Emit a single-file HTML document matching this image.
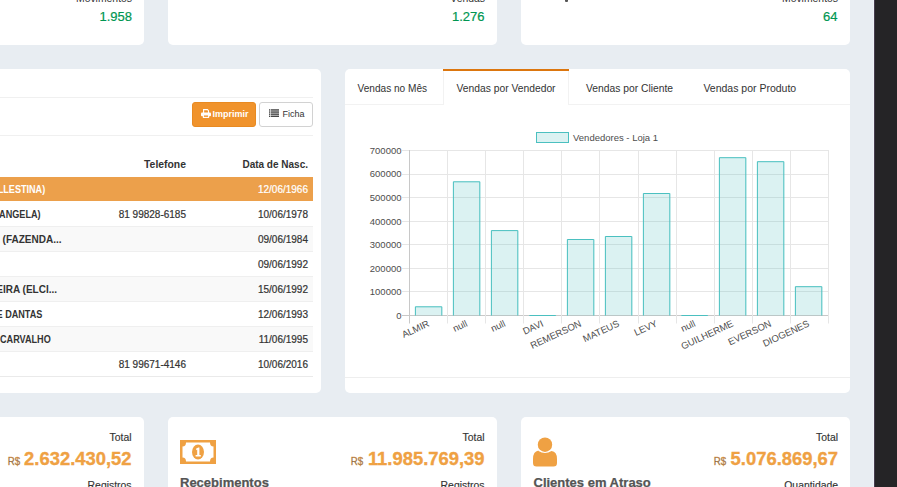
<!DOCTYPE html>
<html><head><meta charset="utf-8">
<style>
*{margin:0;padding:0;box-sizing:border-box}
html,body{width:897px;height:487px;overflow:hidden}
body{background:#e8edf2;font-family:"Liberation Sans",sans-serif;color:#333;position:relative}
.abs{position:absolute}
.card{position:absolute;background:#fff;border-radius:5px}
.r{position:absolute;text-align:right;white-space:nowrap}
.l{position:absolute;white-space:nowrap}
.hl{position:absolute;height:1px;background:#f0f0f0}
</style></head><body>
<div class="card" style="left:-185px;top:-40px;width:329px;height:85px"></div>
<div class="card" style="left:168px;top:-40px;width:329px;height:85px"></div>
<div class="card" style="left:521px;top:-40px;width:329px;height:85px"></div>
<div class="card" style="left:-200px;top:69px;width:521px;height:324px"></div>
<div class="card" style="left:345px;top:69px;width:505px;height:324px"></div>
<div class="card" style="left:-185px;top:417px;width:329px;height:120px"></div>
<div class="card" style="left:168px;top:417px;width:329px;height:120px"></div>
<div class="card" style="left:521px;top:417px;width:329px;height:120px"></div>
<div class="r" style="top:-5.80px;font-size:10.4px;line-height:10.4px;color:#333;right:765.00px;">Movimentos</div>
<div class="r" style="top:10.00px;font-size:13px;line-height:13px;color:#009651;right:765.00px;-webkit-text-stroke:0.2px #009651;">1.958</div>
<div class="r" style="top:-5.80px;font-size:10.4px;line-height:10.4px;color:#333;right:412.00px;">Vendas</div>
<div class="r" style="top:10.00px;font-size:13px;line-height:13px;color:#009651;right:412.50px;-webkit-text-stroke:0.2px #009651;">1.276</div>
<div class="r" style="top:-5.80px;font-size:10.4px;line-height:10.4px;color:#333;right:59.00px;">Movimentos</div>
<div class="r" style="top:10.00px;font-size:13px;line-height:13px;color:#009651;right:59.50px;-webkit-text-stroke:0.2px #009651;">64</div>
<div class="abs" style="left:565px;top:0;width:3px;height:2px;background:#555;border-radius:0 0 1px 1px"></div>
<div class="hl" style="left:0;top:97px;width:313px"></div>
<div class="hl" style="left:0;top:135px;width:313px"></div>
<div class="abs" style="left:192px;top:102px;width:64px;height:25px;background:#f0932c;border:1px solid #e88a22;border-radius:3px"></div>
<div class="abs" style="left:259px;top:102px;width:54px;height:25px;background:#fff;border:1px solid #d2d2d2;border-radius:3px"></div>
<svg class="abs" style="left:201px;top:109.4px" width="10" height="9" viewBox="0 0 10 9">
<path d="M2.6 4 V0.6 H6.4 L7.5 1.7 V4" fill="none" stroke="#fff" stroke-width="1.1"/>
<rect x="0" y="3.6" width="10" height="3.6" rx="1" fill="#fff"/>
<rect x="2.4" y="5.9" width="5.2" height="2.5" fill="#f0932c" stroke="#fff" stroke-width="1.1"/>
</svg>
<div class="l" style="top:109.78px;font-size:9px;line-height:9px;color:#fff;font-weight:700;left:212.50px;">Imprimir</div>
<svg class="abs" style="left:269px;top:109px" width="10" height="8" viewBox="0 0 10 8">
<g fill="#333"><rect x="0" y="0.3" width="1.3" height="1.3"/><rect x="1.9" y="0.3" width="8.1" height="1.3"/>
<rect x="0" y="2.4" width="1.3" height="1.3"/><rect x="1.9" y="2.4" width="8.1" height="1.3"/>
<rect x="0" y="4.5" width="1.3" height="1.3"/><rect x="1.9" y="4.5" width="8.1" height="1.3"/>
<rect x="0" y="6.6" width="1.3" height="1.3"/><rect x="1.9" y="6.6" width="8.1" height="1.3"/></g>
</svg>
<div class="l" style="top:109.98px;font-size:9px;line-height:9px;color:#333;left:282.40px;">Ficha</div>
<div class="r" style="top:159.60px;font-size:10.4px;line-height:10.4px;color:#333;font-weight:700;right:711.00px;">Telefone</div>
<div class="r" style="top:159.94px;font-size:10px;line-height:10px;color:#333;font-weight:700;right:589.00px;">Data de Nasc.</div>
<div class="abs" style="left:0;top:177px;width:313px;height:24px;background:#eca04b"></div>
<div class="r" style="top:184.73px;font-size:10px;line-height:10px;color:#fff;font-weight:700;right:851.50px;transform:scaleX(0.91);transform-origin:100% 50%;">LLESTINA)</div>
<div class="r" style="top:184.73px;font-size:10px;line-height:10px;color:#fff;right:589.00px;-webkit-text-stroke:0.2px #fff;">12/06/1966</div>
<div class="r" style="top:209.73px;font-size:10px;line-height:10px;color:#333;font-weight:700;right:856.00px;transform:scaleX(0.91);transform-origin:100% 50%;">ANGELA)</div>
<div class="r" style="top:209.73px;font-size:10px;line-height:10px;color:#333;right:711.00px;-webkit-text-stroke:0.2px #333;">81 99828-6185</div>
<div class="r" style="top:209.73px;font-size:10px;line-height:10px;color:#333;right:589.00px;-webkit-text-stroke:0.2px #333;">10/06/1978</div>
<div class="abs" style="left:0;top:226px;width:313px;height:25px;background:#f9f9f9"></div>
<div class="hl" style="left:0;top:226px;width:313px;background:#efefef"></div>
<div class="r" style="top:234.73px;font-size:10px;line-height:10px;color:#333;font-weight:700;right:835.50px;"> (FAZENDA...</div>
<div class="r" style="top:234.73px;font-size:10px;line-height:10px;color:#333;right:589.00px;-webkit-text-stroke:0.2px #333;">09/06/1984</div>
<div class="hl" style="left:0;top:251px;width:313px;background:#efefef"></div>
<div class="r" style="top:259.74px;font-size:10px;line-height:10px;color:#333;right:589.00px;-webkit-text-stroke:0.2px #333;">09/06/1992</div>
<div class="abs" style="left:0;top:276px;width:313px;height:25px;background:#f9f9f9"></div>
<div class="hl" style="left:0;top:276px;width:313px;background:#efefef"></div>
<div class="r" style="top:284.74px;font-size:10px;line-height:10px;color:#333;font-weight:700;right:840.00px;">EIRA (ELCI...</div>
<div class="r" style="top:284.74px;font-size:10px;line-height:10px;color:#333;right:589.00px;-webkit-text-stroke:0.2px #333;">15/06/1992</div>
<div class="hl" style="left:0;top:301px;width:313px;background:#efefef"></div>
<div class="r" style="top:309.74px;font-size:10px;line-height:10px;color:#333;font-weight:700;right:855.00px;transform:scaleX(0.91);transform-origin:100% 50%;">E DANTAS</div>
<div class="r" style="top:309.74px;font-size:10px;line-height:10px;color:#333;right:589.00px;-webkit-text-stroke:0.2px #333;">12/06/1993</div>
<div class="abs" style="left:0;top:326px;width:313px;height:25px;background:#f9f9f9"></div>
<div class="hl" style="left:0;top:326px;width:313px;background:#efefef"></div>
<div class="r" style="top:334.74px;font-size:10px;line-height:10px;color:#333;font-weight:700;right:846.00px;transform:scaleX(0.91);transform-origin:100% 50%;">CARVALHO</div>
<div class="r" style="top:334.74px;font-size:10px;line-height:10px;color:#333;right:589.00px;-webkit-text-stroke:0.2px #333;">11/06/1995</div>
<div class="hl" style="left:0;top:351px;width:313px;background:#efefef"></div>
<div class="r" style="top:359.74px;font-size:10px;line-height:10px;color:#333;right:711.00px;-webkit-text-stroke:0.2px #333;">81 99671-4146</div>
<div class="r" style="top:359.74px;font-size:10px;line-height:10px;color:#333;right:589.00px;-webkit-text-stroke:0.2px #333;">10/06/2016</div>
<div class="hl" style="left:0;top:376px;width:313px;background:#eaeaea"></div>
<div class="hl" style="left:345px;top:104px;width:98px;background:#f2f2f2"></div>
<div class="hl" style="left:569px;top:104px;width:281px;background:#f2f2f2"></div>
<div class="abs" style="left:443px;top:71px;width:126px;height:34px;border-left:1px solid #f2f2f2;border-right:1px solid #f2f2f2"></div>
<div class="abs" style="left:443px;top:69px;width:126px;height:2px;background:#dc760e"></div>
<div class="l" style="top:83.75px;font-size:10.1px;line-height:10.1px;color:#333;left:357.50px;">Vendas no Mês</div>
<div class="l" style="top:83.58px;font-size:10.3px;line-height:10.3px;color:#333;left:456.50px;">Vendas por Vendedor</div>
<div class="l" style="top:83.58px;font-size:10.3px;line-height:10.3px;color:#333;left:586.00px;">Vendas por Cliente</div>
<div class="l" style="top:83.41px;font-size:10.5px;line-height:10.5px;color:#333;left:703.40px;">Vendas por Produto</div>
<div class="hl" style="left:345px;top:377px;width:505px;background:#eeeeee"></div>
<svg class="abs" style="left:0;top:0" width="897" height="487" viewBox="0 0 897 487">
<line x1="402" y1="315.5" x2="829" y2="315.5" stroke="#c8c8c8" stroke-width="1"/>
<text x="401.5" y="318.90" text-anchor="end" font-size="9.5" fill="#4d4d4d">0</text>
<line x1="402" y1="291.5" x2="829" y2="291.5" stroke="#e6e6e6" stroke-width="1"/>
<text x="401.5" y="295.33" text-anchor="end" font-size="9.5" fill="#4d4d4d">100000</text>
<line x1="402" y1="268.5" x2="829" y2="268.5" stroke="#e6e6e6" stroke-width="1"/>
<text x="401.5" y="271.76" text-anchor="end" font-size="9.5" fill="#4d4d4d">200000</text>
<line x1="402" y1="244.5" x2="829" y2="244.5" stroke="#e6e6e6" stroke-width="1"/>
<text x="401.5" y="248.19" text-anchor="end" font-size="9.5" fill="#4d4d4d">300000</text>
<line x1="402" y1="221.5" x2="829" y2="221.5" stroke="#e6e6e6" stroke-width="1"/>
<text x="401.5" y="224.62" text-anchor="end" font-size="9.5" fill="#4d4d4d">400000</text>
<line x1="402" y1="197.5" x2="829" y2="197.5" stroke="#e6e6e6" stroke-width="1"/>
<text x="401.5" y="201.05" text-anchor="end" font-size="9.5" fill="#4d4d4d">500000</text>
<line x1="402" y1="174.5" x2="829" y2="174.5" stroke="#e6e6e6" stroke-width="1"/>
<text x="401.5" y="177.48" text-anchor="end" font-size="9.5" fill="#4d4d4d">600000</text>
<line x1="402" y1="150.5" x2="829" y2="150.5" stroke="#e6e6e6" stroke-width="1"/>
<text x="401.5" y="153.91" text-anchor="end" font-size="9.5" fill="#4d4d4d">700000</text>
<line x1="409.5" y1="150" x2="409.5" y2="323.5" stroke="#c8c8c8" stroke-width="1"/>
<line x1="447.5" y1="150" x2="447.5" y2="323.5" stroke="#e6e6e6" stroke-width="1"/>
<line x1="485.5" y1="150" x2="485.5" y2="323.5" stroke="#e6e6e6" stroke-width="1"/>
<line x1="523.5" y1="150" x2="523.5" y2="323.5" stroke="#e6e6e6" stroke-width="1"/>
<line x1="561.5" y1="150" x2="561.5" y2="323.5" stroke="#e6e6e6" stroke-width="1"/>
<line x1="599.5" y1="150" x2="599.5" y2="323.5" stroke="#e6e6e6" stroke-width="1"/>
<line x1="638.5" y1="150" x2="638.5" y2="323.5" stroke="#e6e6e6" stroke-width="1"/>
<line x1="676.5" y1="150" x2="676.5" y2="323.5" stroke="#e6e6e6" stroke-width="1"/>
<line x1="714.5" y1="150" x2="714.5" y2="323.5" stroke="#e6e6e6" stroke-width="1"/>
<line x1="752.5" y1="150" x2="752.5" y2="323.5" stroke="#e6e6e6" stroke-width="1"/>
<line x1="790.5" y1="150" x2="790.5" y2="323.5" stroke="#e6e6e6" stroke-width="1"/>
<line x1="828.5" y1="150" x2="828.5" y2="323.5" stroke="#e6e6e6" stroke-width="1"/>
<rect x="414.90" y="306.30" width="27.40" height="9.20" fill="rgba(75,192,192,0.2)"/>
<path d="M415.40 315.5 V306.80 H441.80 V315.5" fill="none" stroke="rgb(75,192,192)" stroke-width="1"/>
<text x="430.10" y="325.80" text-anchor="end" font-size="9.5" fill="#4d4d4d" transform="rotate(-25 430.10 325.80)">ALMIR</text>
<rect x="452.90" y="181.30" width="27.40" height="134.20" fill="rgba(75,192,192,0.2)"/>
<path d="M453.40 315.5 V181.80 H479.80 V315.5" fill="none" stroke="rgb(75,192,192)" stroke-width="1"/>
<text x="468.10" y="325.80" text-anchor="end" font-size="9.5" fill="#4d4d4d" transform="rotate(-25 468.10 325.80)">null</text>
<rect x="490.90" y="230.10" width="27.40" height="85.40" fill="rgba(75,192,192,0.2)"/>
<path d="M491.40 315.5 V230.60 H517.80 V315.5" fill="none" stroke="rgb(75,192,192)" stroke-width="1"/>
<text x="506.10" y="325.80" text-anchor="end" font-size="9.5" fill="#4d4d4d" transform="rotate(-25 506.10 325.80)">null</text>
<rect x="528.90" y="315.00" width="27.40" height="0.50" fill="rgba(75,192,192,0.2)"/>
<path d="M529.40 315.5 V315.50 H555.80 V315.5" fill="none" stroke="rgb(75,192,192)" stroke-width="1"/>
<text x="544.10" y="325.80" text-anchor="end" font-size="9.5" fill="#4d4d4d" transform="rotate(-25 544.10 325.80)">DAVI</text>
<rect x="566.90" y="239.00" width="27.40" height="76.50" fill="rgba(75,192,192,0.2)"/>
<path d="M567.40 315.5 V239.50 H593.80 V315.5" fill="none" stroke="rgb(75,192,192)" stroke-width="1"/>
<text x="582.10" y="325.80" text-anchor="end" font-size="9.5" fill="#4d4d4d" transform="rotate(-25 582.10 325.80)">REMERSON</text>
<rect x="604.90" y="236.00" width="27.40" height="79.50" fill="rgba(75,192,192,0.2)"/>
<path d="M605.40 315.5 V236.50 H631.80 V315.5" fill="none" stroke="rgb(75,192,192)" stroke-width="1"/>
<text x="620.10" y="325.80" text-anchor="end" font-size="9.5" fill="#4d4d4d" transform="rotate(-25 620.10 325.80)">MATEUS</text>
<rect x="642.90" y="193.00" width="27.40" height="122.50" fill="rgba(75,192,192,0.2)"/>
<path d="M643.40 315.5 V193.50 H669.80 V315.5" fill="none" stroke="rgb(75,192,192)" stroke-width="1"/>
<text x="658.10" y="325.80" text-anchor="end" font-size="9.5" fill="#4d4d4d" transform="rotate(-25 658.10 325.80)">LEVY</text>
<rect x="680.90" y="315.00" width="27.40" height="0.50" fill="rgba(75,192,192,0.2)"/>
<path d="M681.40 315.5 V315.50 H707.80 V315.5" fill="none" stroke="rgb(75,192,192)" stroke-width="1"/>
<text x="696.10" y="325.80" text-anchor="end" font-size="9.5" fill="#4d4d4d" transform="rotate(-25 696.10 325.80)">null</text>
<rect x="718.90" y="157.20" width="27.40" height="158.30" fill="rgba(75,192,192,0.2)"/>
<path d="M719.40 315.5 V157.70 H745.80 V315.5" fill="none" stroke="rgb(75,192,192)" stroke-width="1"/>
<text x="734.10" y="325.80" text-anchor="end" font-size="9.5" fill="#4d4d4d" transform="rotate(-25 734.10 325.80)">GUILHERME</text>
<rect x="756.90" y="161.20" width="27.40" height="154.30" fill="rgba(75,192,192,0.2)"/>
<path d="M757.40 315.5 V161.70 H783.80 V315.5" fill="none" stroke="rgb(75,192,192)" stroke-width="1"/>
<text x="772.10" y="325.80" text-anchor="end" font-size="9.5" fill="#4d4d4d" transform="rotate(-25 772.10 325.80)">EVERSON</text>
<rect x="794.90" y="286.20" width="27.40" height="29.30" fill="rgba(75,192,192,0.2)"/>
<path d="M795.40 315.5 V286.70 H821.80 V315.5" fill="none" stroke="rgb(75,192,192)" stroke-width="1"/>
<text x="810.10" y="325.80" text-anchor="end" font-size="9.5" fill="#4d4d4d" transform="rotate(-25 810.10 325.80)">DIOGENES</text>
<rect x="536.5" y="132.5" width="32" height="10" fill="rgba(75,192,192,0.2)" stroke="rgb(75,192,192)" stroke-width="1"/>
<text x="573" y="141" font-size="9.5" fill="#4d4d4d">Vendedores - Loja 1</text>
</svg>
<div class="r" style="top:433.00px;font-size:10.4px;line-height:10.4px;color:#333;right:765.50px;-webkit-text-stroke:0.15px #333;">Total</div>
<div class="r" style="right:765.5px;top:450.22px;font-size:18.4px;line-height:18.4px;font-weight:700;color:#efa143;-webkit-text-stroke:0.35px #efa143"><span style="display:inline-block;font-size:11px;line-height:11px;font-weight:400;color:#555;margin-right:4.5px;transform:scaleX(0.88);transform-origin:100% 50%">R$</span>2.632.430,52</div>
<div class="r" style="top:481.40px;font-size:10.4px;line-height:10.4px;color:#333;right:765.50px;-webkit-text-stroke:0.15px #333;">Registros</div>
<div class="r" style="top:433.00px;font-size:10.4px;line-height:10.4px;color:#333;right:412.50px;-webkit-text-stroke:0.15px #333;">Total</div>
<div class="r" style="right:412.5px;top:450.22px;font-size:18.4px;line-height:18.4px;font-weight:700;color:#efa143;-webkit-text-stroke:0.35px #efa143"><span style="display:inline-block;font-size:11px;line-height:11px;font-weight:400;color:#555;margin-right:4.5px;transform:scaleX(0.88);transform-origin:100% 50%">R$</span>11.985.769,39</div>
<div class="r" style="top:481.40px;font-size:10.4px;line-height:10.4px;color:#333;right:412.50px;-webkit-text-stroke:0.15px #333;">Registros</div>
<div class="r" style="top:433.00px;font-size:10.4px;line-height:10.4px;color:#333;right:59.00px;-webkit-text-stroke:0.15px #333;">Total</div>
<div class="r" style="right:59px;top:450.22px;font-size:18.4px;line-height:18.4px;font-weight:700;color:#efa143;-webkit-text-stroke:0.35px #efa143"><span style="display:inline-block;font-size:11px;line-height:11px;font-weight:400;color:#555;margin-right:4.5px;transform:scaleX(0.88);transform-origin:100% 50%">R$</span>5.076.869,67</div>
<div class="r" style="top:481.40px;font-size:10.4px;line-height:10.4px;color:#333;right:59.00px;-webkit-text-stroke:0.15px #333;">Quantidade</div>
<svg class="abs" style="left:180px;top:440px" width="36" height="24" viewBox="0 0 36 24">
<path fill="#efa143" fill-rule="evenodd" d="M0 0H36V24H0Z M6 2.5 Q6 6.5 2.5 6.5 V17.5 Q6 17.5 6 21.5 H30 Q30 17.5 33.5 17.5 V6.5 Q30 6.5 30 2.5Z"/>
<ellipse cx="18" cy="12" rx="6" ry="7.5" fill="#efa143"/>
<path fill="#fff" d="M16.2 8.6 L18.4 7.6 H19.4 V15 H20.8 V16.4 H15.6 V15 H17.2 V9.8 L16.2 10.2Z"/>
</svg>
<div class="l" style="top:476.10px;font-size:13px;line-height:13px;color:#555;font-weight:700;left:180.00px;-webkit-text-stroke:0.25px #555;">Recebimentos</div>
<svg class="abs" style="left:532px;top:436px" width="26" height="32" viewBox="0 0 26 32">
<circle cx="13" cy="8.7" r="7.2" fill="#efa143"/>
<path fill="#efa143" d="M6.5 15 Q13 19 19.5 15 Q25 15.6 25 23 V27 Q25 30.5 21.5 30.5 H4.5 Q1 30.5 1 27 V23 Q1 15.6 6.5 14.6Z"/>
</svg>
<div class="l" style="top:476.10px;font-size:13px;line-height:13px;color:#555;font-weight:700;left:533.50px;-webkit-text-stroke:0.25px #555;">Clientes em Atraso</div>
<div class="abs" style="left:873px;top:0;width:1px;height:487px;background:#eef2f7"></div>
<div class="abs" style="left:874px;top:0;width:1px;height:487px;background:#463d4e"></div>
<div class="abs" style="left:875px;top:0;width:22px;height:487px;background:#252426"></div>
</body></html>
